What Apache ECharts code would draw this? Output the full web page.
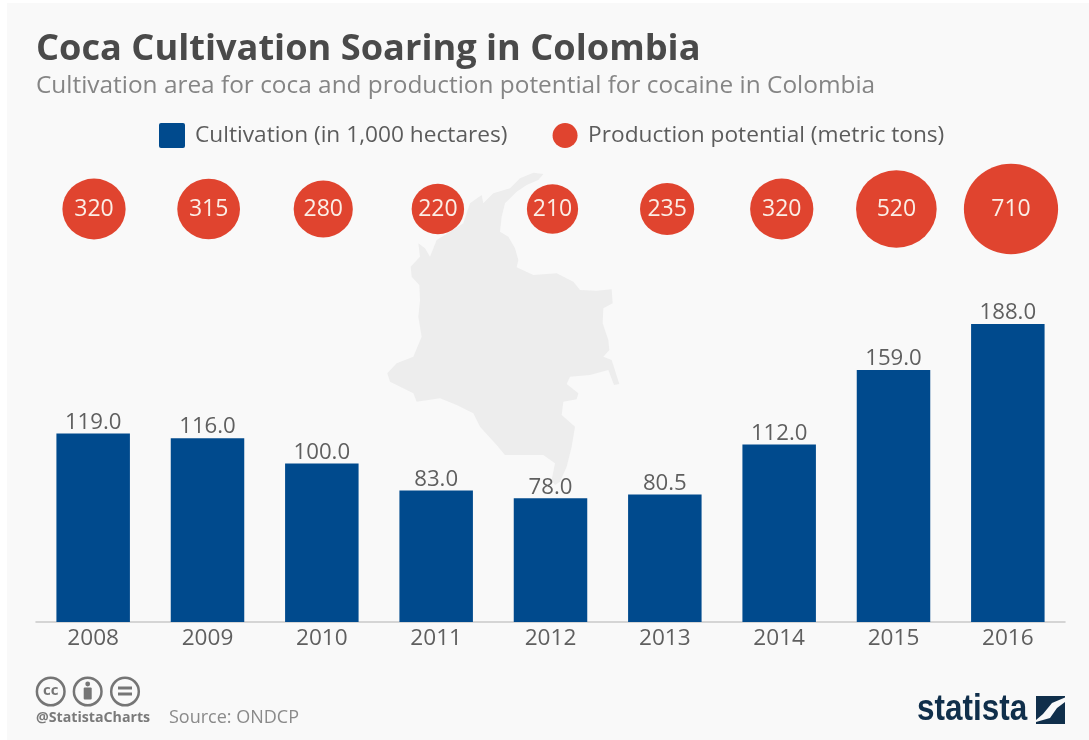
<!DOCTYPE html>
<html>
<head>
<meta charset="utf-8">
<style>html,body{margin:0;padding:0;background:#fff}#chart{width:1089px;height:740px}</style>
<script src="https://cdn.jsdelivr.net/npm/echarts@6/dist/echarts.min.js"></script>
</head>
<body>
<div id="chart"></div>
<script>
const years = ['2008','2009','2010','2011','2012','2013','2014','2015','2016'];
const cultivation = [119.0,116.0,100.0,83.0,78.0,80.5,112.0,159.0,188.0];
const production = [320,315,280,220,210,235,320,520,710];
const cultivationName = 'Cultivation (in 1,000 hectares)';
const productionName = 'Production potential (metric tons)';
const FONT = '"Open Sans"';
const ELLIPSE = 'path://M0 50A50 50 0 1 1 100 50A50 50 0 1 1 0 50Z';
const SOFT_SQUARE = 'path://M2 0H24A2 2 0 0 1 26 2V23A2 2 0 0 1 24 25H2A2 2 0 0 1 0 23V2A2 2 0 0 1 2 0Z';

// Silhouette of Colombia behind the columns
const mapOutline = [[520,42],[505,60],[470,75],[440,95],[405,130],[395,170],[390,215],[415,230],[435,265],[445,300],[440,322],[490,345],[560,340],[610,365],[630,390],[680,392],[725,388],[728,430],[700,445],[698,490],[715,540],[718,570],[700,590],[725,600],[748,672],[732,675],[715,630],[660,645],[600,650],[590,672],[625,700],[620,718],[580,725],[575,765],[615,800],[605,860],[590,920],[570,965],[555,975],[545,960],[555,910],[520,885],[405,885],[380,855],[330,800],[310,760],[260,735],[210,715],[140,725],[130,700],[60,665],[52,640],[80,610],[130,590],[155,530],[145,470],[150,420],[148,375],[125,350],[122,320],[150,290],[145,250],[165,265],[180,290],[200,240],[240,215],[280,190],[300,130],[335,105],[340,130],[370,100],[420,85],[450,55],[490,38]]
  .map(p => [370 + p[0] / 3, 160 + p[1] / 3]);

const chart = echarts.init(document.getElementById('chart'), null, {renderer: 'canvas'});

const ccRing = (cx, cy) => ({type:'circle', shape:{cx, cy, r:13.8}, style:{fill:'none', stroke:'#757575', lineWidth:2.5}});

chart.setOption({
  animation: false,
  backgroundColor: '#ffffff',
  title: [
    {text:'Coca Cultivation Soaring in Colombia', left:36, top:32, padding:0,
     textStyle:{fontFamily:FONT, fontWeight:700, fontSize:36.2, color:'#4a4a4a'}},
    {text:'Cultivation area for coca and production potential for cocaine in Colombia', left:36, top:74, padding:0,
     textStyle:{fontFamily:FONT, fontWeight:400, fontSize:24.4, color:'#858585'}}
  ],
  legend: {
    top: 123, left: 159, padding: 0, itemWidth: 26, itemHeight: 25, itemGap: 45,
    textStyle:{fontFamily:FONT, fontSize:22.7, color:'#5c5c5c', padding:[0,0,0,5]},
    data:[
      {name:cultivationName, icon:SOFT_SQUARE, itemStyle:{color:'#004a8d'}},
      {name:productionName, icon:ELLIPSE, itemStyle:{color:'#e0442f'}}
    ]
  },
  grid: [
    {left:36, top:305, width:1029, height:317},
    {left:36.7, top:164, width:1031.6, height:90}
  ],
  xAxis: [
    {type:'category', gridIndex:0, data:years,
     axisLine:{lineStyle:{color:'#c9c9c9', width:1.5}}, axisTick:{show:false},
     axisLabel:{fontFamily:FONT, fontSize:22.6, color:'#5f5f5f', margin:5}},
    {type:'category', gridIndex:1, data:years, show:false}
  ],
  yAxis: [
    {type:'value', gridIndex:0, min:0, max:200, show:false},
    {type:'value', gridIndex:1, min:0, max:2, show:false}
  ],
  series: [
    {name:cultivationName, type:'bar', xAxisIndex:0, yAxisIndex:0, data:cultivation, barWidth:73.5, z:3,
     itemStyle:{color:'#004a8d'},
     label:{show:true, position:'top', distance:0, fontFamily:FONT, fontSize:22.2, color:'#5f5f5f',
            formatter:p => p.value.toFixed(1)}},
    {name:productionName, type:'scatter', xAxisIndex:1, yAxisIndex:1,
     data:production.map((v, i) => [i, 1]),
     symbol:ELLIPSE,
     symbolSize:(val, p) => {
       const h = 3.4 * Math.sqrt(production[p.dataIndex]);
       return [h * 1.04, h];
     }, z:4,
     itemStyle:{color:'#e0442f', opacity:1},
     label:{show:true, position:'inside', fontFamily:FONT, fontSize:23, color:'#fbeee6',
            formatter:p => String(production[p.dataIndex])}}
  ],
  graphic: [
    {type:'rect', z:-10, shape:{x:7, y:3, width:1082, height:737}, style:{fill:'#f9f9f9'}},
    {type:'polygon', z:0, shape:{points:mapOutline}, style:{fill:'#ededed'}},
    // Creative Commons badges
    {type:'group', z:5, children:[
      ccRing(50.7, 691.5), ccRing(87.7, 691.5), ccRing(125, 691.5),
      {type:'text', style:{x:50.7, y:690.5, text:'cc', align:'center', verticalAlign:'middle',
        font:'700 15px "Open Sans"', fill:'#757575'}},
      {type:'circle', shape:{cx:87.7, cy:684, r:2.4}, style:{fill:'#757575'}},
      {type:'rect', shape:{x:83.7, y:687.5, width:8, height:12, r:1}, style:{fill:'#757575'}},
      {type:'rect', shape:{x:118, y:686.5, width:14, height:3}, style:{fill:'#757575'}},
      {type:'rect', shape:{x:118, y:692.5, width:14, height:3}, style:{fill:'#757575'}}
    ]},
    {type:'text', z:5, style:{x:36, y:718, text:'@StatistaCharts', verticalAlign:'middle',
      font:'700 14.2px "Open Sans"', fill:'#7a7a7a'}},
    {type:'text', z:5, style:{x:169, y:717.5, text:'Source: ONDCP', verticalAlign:'middle',
      font:'400 18px "Open Sans"', fill:'#8a8a8a'}},
    // Statista wordmark
    {type:'text', z:5, x:917, y:710, scaleX:0.85, style:{x:0, y:0, text:'statista', verticalAlign:'middle',
      font:'700 37px "Liberation Sans"', fill:'#102f4b'}},
    {type:'polygon', z:5, shape:{points:[[1036,696],[1065,696],[1065,697.5],[1052,703],[1043,714],[1036,720]]}, style:{fill:'#102f4b'}},
    {type:'polygon', z:5, shape:{points:[[1065,702],[1065,724],[1036,724],[1036,722],[1050,718],[1057,708]]}, style:{fill:'#102f4b'}}
  ]
});
</script>
</body>
</html>
